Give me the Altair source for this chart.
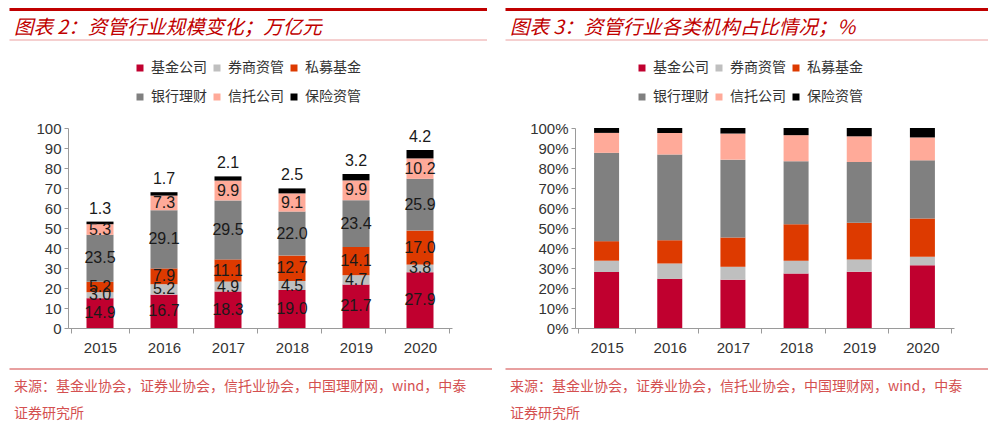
import altair as alt
import pandas as pd

years = ["2015", "2016", "2017", "2018", "2019", "2020"]
series = ["基金公司", "券商资管", "私募基金", "银行理财", "信托公司", "保险资管"]
jijin = [14.9, 16.7, 18.3, 19.0, 21.7, 27.9]
quanshang = [3.0, 5.2, 4.9, 4.5, 4.7, 3.8]
simu = [5.2, 7.9, 11.1, 12.7, 14.1, 17.0]
yinhang = [23.5, 29.1, 29.5, 22.0, 23.4, 25.9]
xintuo = [5.3, 7.3, 9.9, 9.1, 9.9, 10.2]
baoxian = [1.3, 1.7, 2.1, 2.5, 3.2, 4.2]
colors = ["#C0002F", "#BFBFBF", "#DD3A00", "#808080", "#FFAA99", "#000000"]

title_left = "图表 2：资管行业规模变化；万亿元"
title_right = "图表 3：资管行业各类机构占比情况；%"
source_line1 = "来源：基金业协会，证券业协会，信托业协会，中国理财网，wind，中泰"
source_line2 = "证券研究所"
y_ticks_left = [0, 10, 20, 30, 40, 50, 60, 70, 80, 90, 100]
y_ticks_right = [0, 0.1, 0.2, 0.3, 0.4, 0.5, 0.6, 0.7, 0.8, 0.9, 1.0]

values_by_series = [jijin, quanshang, simu, yinhang, xintuo, baoxian]
rows = []
for i, (s, vals) in enumerate(zip(series, values_by_series)):
    for y, v in zip(years, vals):
        rows.append({"year": y, "series": s, "value": v, "idx": i})
df = pd.DataFrame(rows)

H = 200
CJK = "Noto Sans CJK SC"
NUM = "Liberation Sans"
RED = "#C00000"

x_axis = alt.Axis(title=None, labelAngle=0, labelFont=NUM, labelFontSize=15,
                  labelColor="#333333", tickBand="extent", tickSize=5,
                  tickColor="#9A9A9A", domainColor="#9A9A9A", labelPadding=7,
                  grid=False)


def y_axis(vals, fmt):
    return alt.Axis(title=None, values=vals, format=fmt, labelFont=NUM,
                    labelFontSize=15, labelColor="#333333", tickSize=4,
                    tickColor="#9A9A9A", domainColor="#9A9A9A",
                    labelPadding=3, grid=False, labelOverlap=False)


def legend_def(lx):
    return alt.Legend(title=None, orient="none", legendX=lx, legendY=-67,
                      direction="horizontal", columns=3, symbolType="square",
                      symbolSize=49, symbolStrokeWidth=0, labelFont=CJK,
                      labelFontSize=14, labelColor="#333333", columnPadding=3,
                      rowPadding=15, labelOffset=4, labelLimit=0)


def decorations(left_ext, right_top, right_src, title):
    c = alt.Chart(pd.DataFrame({"t": [title]}))
    top = c.mark_rule(color=RED, strokeWidth=3).encode(
        x=alt.value(-left_ext + 1.5), x2=alt.value(right_top), y=alt.value(-118.5))
    thin = c.mark_rule(color="#EBA0A0", strokeWidth=1).encode(
        x=alt.value(-left_ext + 1.5), x2=alt.value(right_top), y=alt.value(-88))
    ttl = c.mark_text(align="left", baseline="middle", font=CJK, fontSize=19.5,
                      fontStyle="italic", color=RED).encode(
        text="t:N", x=alt.value(-left_ext + 6), y=alt.value(-100))
    src_rule = c.mark_rule(color="#E08080", strokeWidth=1.5).encode(
        x=alt.value(-left_ext + 1.5), x2=alt.value(right_src), y=alt.value(241))
    s1 = alt.Chart(pd.DataFrame({"t": [source_line1]})).mark_text(
        align="left", baseline="middle", font=CJK, fontSize=14,
        color="#D45050").encode(text="t:N", x=alt.value(-left_ext + 6), y=alt.value(259))
    s2 = alt.Chart(pd.DataFrame({"t": [source_line2]})).mark_text(
        align="left", baseline="middle", font=CJK, fontSize=14,
        color="#D45050").encode(text="t:N", x=alt.value(-left_ext + 6), y=alt.value(286))
    return [top, thin, ttl, src_rule, s1, s2]


# ---------- left panel ----------
WL = 384
base = alt.Chart(df)
xenc = alt.X("year:N", sort=years, axis=x_axis, title=None)
yaxis_l = y_axis(y_ticks_left, "d")
yscale_l = alt.Scale(domain=[0, 100])
bars_l = base.mark_bar(size=27).encode(
    x=xenc,
    y=alt.Y("value:Q", stack="zero", scale=yscale_l, axis=yaxis_l, title=None),
    color=alt.Color("series:N", scale=alt.Scale(domain=series, range=colors),
                    legend=legend_def(65)),
    order=alt.Order("idx:Q", sort="ascending"),
)
stacked = base.transform_stack(
    stack="value", groupby=["year"], as_=["y0", "y1"],
    sort=[alt.SortField("idx", order="ascending")]
).transform_calculate(mid="(datum.y0 + datum.y1) / 2")
inner_lbl = stacked.transform_filter("datum.series != '保险资管'").mark_text(
    font=NUM, fontSize=16, color="#1A1A1A", baseline="middle").encode(
    x=xenc, y=alt.Y("mid:Q", scale=yscale_l, axis=yaxis_l, title=None),
    text=alt.Text("value:Q", format=".1f"))
top_lbl = stacked.transform_filter("datum.series == '保险资管'").mark_text(
    font=NUM, fontSize=16, color="#1A1A1A", baseline="middle", dy=-13).encode(
    x=xenc, y=alt.Y("y1:Q", scale=yscale_l, axis=yaxis_l, title=None),
    text=alt.Text("value:Q", format=".1f"))

left = alt.layer(bars_l, inner_lbl, top_lbl,
                 *decorations(60, 419, 424, title_left)).properties(width=WL, height=H)

# ---------- right panel ----------
WR = 379
bars_r = base.mark_bar(size=25).encode(
    x=xenc,
    y=alt.Y("value:Q", stack="normalize", scale=alt.Scale(domain=[0, 1]),
            axis=y_axis(y_ticks_right, ".0%"), title=None),
    color=alt.Color("series:N", scale=alt.Scale(domain=series, range=colors),
                    legend=legend_def(60)),
    order=alt.Order("idx:Q", sort="ascending"),
)
right = alt.layer(bars_r, *decorations(71, 413, 413, title_right)).properties(
    width=WR, height=H)

chart = alt.hconcat(left, right, spacing=11).resolve_scale(
    color="independent").configure_view(stroke=None).properties(
    padding=0, background="white")

chart.save("out.html", embed_options={"renderer": "svg", "actions": False})
